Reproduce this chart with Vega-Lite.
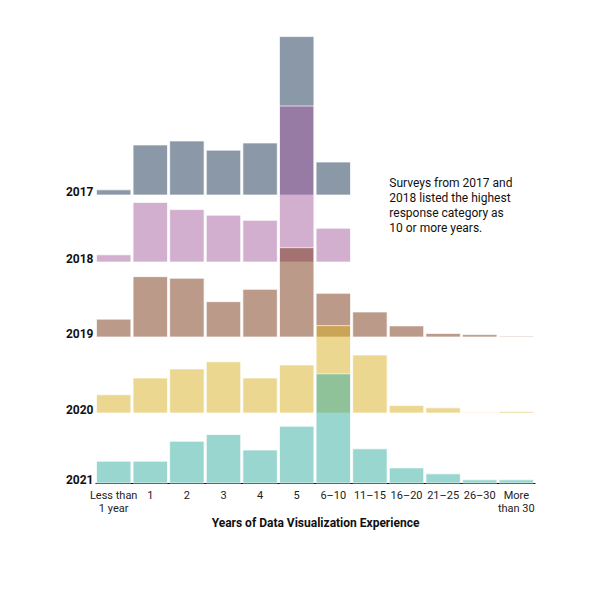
{
  "$schema": "https://vega.github.io/schema/vega-lite/v6.json",
  "padding": {"left": 65, "top": 5, "right": 5, "bottom": 5},
  "background": "white",
  "spacing": 0,
  "bounds": "flush",
  "config": {"view": {"stroke": null}, "font": "Roboto", "concat": {"spacing": 0}},
  "resolve": {"scale": {"x": "independent", "y": "independent", "color": "shared"}},
  "datasets": {
    "survey": [
      {"year": "2017", "experience": "Less than 1 year", "pct": 1.3},
      {"year": "2017", "experience": "1", "pct": 12.6},
      {"year": "2017", "experience": "2", "pct": 13.6},
      {"year": "2017", "experience": "3", "pct": 11.3},
      {"year": "2017", "experience": "4", "pct": 13.1},
      {"year": "2017", "experience": "5", "pct": 39.9},
      {"year": "2017", "experience": "6–10", "pct": 8.3},
      {"year": "2018", "experience": "Less than 1 year", "pct": 1.8},
      {"year": "2018", "experience": "1", "pct": 15.0},
      {"year": "2018", "experience": "2", "pct": 13.2},
      {"year": "2018", "experience": "3", "pct": 11.8},
      {"year": "2018", "experience": "4", "pct": 10.5},
      {"year": "2018", "experience": "5", "pct": 39.3},
      {"year": "2018", "experience": "6–10", "pct": 8.5},
      {"year": "2019", "experience": "Less than 1 year", "pct": 4.5},
      {"year": "2019", "experience": "1", "pct": 15.2},
      {"year": "2019", "experience": "2", "pct": 14.8},
      {"year": "2019", "experience": "3", "pct": 8.9},
      {"year": "2019", "experience": "4", "pct": 12.0},
      {"year": "2019", "experience": "5", "pct": 22.5},
      {"year": "2019", "experience": "6–10", "pct": 11.0},
      {"year": "2019", "experience": "11–15", "pct": 6.3},
      {"year": "2019", "experience": "16–20", "pct": 2.8},
      {"year": "2019", "experience": "21–25", "pct": 0.9},
      {"year": "2019", "experience": "26–30", "pct": 0.6},
      {"year": "2019", "experience": "More than 30", "pct": 0.2},
      {"year": "2020", "experience": "Less than 1 year", "pct": 4.6},
      {"year": "2020", "experience": "1", "pct": 8.8},
      {"year": "2020", "experience": "2", "pct": 11.1},
      {"year": "2020", "experience": "3", "pct": 12.9},
      {"year": "2020", "experience": "4", "pct": 8.8},
      {"year": "2020", "experience": "5", "pct": 12.1},
      {"year": "2020", "experience": "6–10", "pct": 22.0},
      {"year": "2020", "experience": "11–15", "pct": 14.6},
      {"year": "2020", "experience": "16–20", "pct": 1.9},
      {"year": "2020", "experience": "21–25", "pct": 1.3},
      {"year": "2020", "experience": "26–30", "pct": 0.2},
      {"year": "2020", "experience": "More than 30", "pct": 0.4},
      {"year": "2021", "experience": "Less than 1 year", "pct": 5.5},
      {"year": "2021", "experience": "1", "pct": 5.5},
      {"year": "2021", "experience": "2", "pct": 10.5},
      {"year": "2021", "experience": "3", "pct": 12.2},
      {"year": "2021", "experience": "4", "pct": 8.3},
      {"year": "2021", "experience": "5", "pct": 14.3},
      {"year": "2021", "experience": "6–10", "pct": 27.5},
      {"year": "2021", "experience": "11–15", "pct": 8.6},
      {"year": "2021", "experience": "16–20", "pct": 3.8},
      {"year": "2021", "experience": "21–25", "pct": 2.3},
      {"year": "2021", "experience": "26–30", "pct": 0.8},
      {"year": "2021", "experience": "More than 30", "pct": 0.8}
    ]
  },
  "data": {"name": "survey"},
  "vconcat": [
    {
      "width": 440,
      "height": 190,
      "layer": [
        {
          "transform": [{"filter": "datum.year == '2017'"}],
          "mark": {"type": "bar", "fillOpacity": 0.5, "stroke": "white", "strokeWidth": 1, "strokeOpacity": 0.7},
          "encoding": {
            "x": {"field": "experience", "type": "ordinal", "sort": null, "axis": null,
                  "scale": {"domain": ["Less than 1 year","1","2","3","4","5","6–10","11–15","16–20","21–25","26–30","More than 30"], "paddingInner": 0.06, "paddingOuter": 0.04}},
            "y": {"field": "pct", "type": "quantitative",
                  "scale": {"domain": [0, 47.86], "nice": false, "zero": true},
                  "axis": {"values": [0], "labelExpr": "'2017'", "domain": false, "ticks": false, "grid": false, "title": null,
                           "labelFontSize": 12, "labelFontWeight": "bold", "labelBaseline": "alphabetic", "labelFlush": false,
                           "labelPadding": 2, "labelColor": "#111", "labelFont": "Roboto"}},
            "color": {"field": "year", "type": "nominal", "legend": null,
                      "scale": {"domain": ["2017","2018","2019","2020","2021"], "range": ["#153151","#a55d9f","#773515","#d9af23","#31ad9f"]}}
          }
        },
        {
          "data": {"values": [{}]},
          "mark": {"type": "text", "text": ["Surveys from 2017 and", "2018 listed the highest", "response category as", "10 or more years."],
                   "align": "left", "baseline": "alphabetic", "fontSize": 12, "lineHeight": 15, "font": "Roboto", "color": "#111"},
          "encoding": {
            "x": {"datum": "16–20", "type": "ordinal", "bandPosition": 0},
            "y": {"datum": 2.1, "type": "quantitative"}
          }
        }
      ]
    },
    {
      "width": 440,
      "height": 67,
      "transform": [{"filter": "datum.year == '2018'"}],
      "mark": {"type": "bar", "fillOpacity": 0.5, "stroke": "white", "strokeWidth": 1, "strokeOpacity": 0.7},
      "encoding": {
        "x": {"field": "experience", "type": "ordinal", "sort": null, "axis": null,
              "scale": {"domain": ["Less than 1 year","1","2","3","4","5","6–10","11–15","16–20","21–25","26–30","More than 30"], "paddingInner": 0.06, "paddingOuter": 0.04}},
        "y": {"field": "pct", "type": "quantitative",
              "scale": {"domain": [0, 16.88], "nice": false, "zero": true},
              "axis": {"values": [0], "labelExpr": "'2018'", "domain": false, "ticks": false, "grid": false, "title": null,
                       "labelFontSize": 12, "labelFontWeight": "bold", "labelBaseline": "alphabetic", "labelFlush": false,
                       "labelPadding": 2, "labelColor": "#111", "labelFont": "Roboto"}},
        "color": {"field": "year", "type": "nominal", "legend": null}
      }
    },
    {
      "width": 440,
      "height": 75,
      "transform": [{"filter": "datum.year == '2019'"}],
      "mark": {"type": "bar", "fillOpacity": 0.5, "stroke": "white", "strokeWidth": 1, "strokeOpacity": 0.7},
      "encoding": {
        "x": {"field": "experience", "type": "ordinal", "sort": null, "axis": null,
              "scale": {"domain": ["Less than 1 year","1","2","3","4","5","6–10","11–15","16–20","21–25","26–30","More than 30"], "paddingInner": 0.06, "paddingOuter": 0.04}},
        "y": {"field": "pct", "type": "quantitative",
              "scale": {"domain": [0, 18.89], "nice": false, "zero": true},
              "axis": {"values": [0], "labelExpr": "'2019'", "domain": false, "ticks": false, "grid": false, "title": null,
                       "labelFontSize": 12, "labelFontWeight": "bold", "labelBaseline": "alphabetic", "labelFlush": false,
                       "labelPadding": 2, "labelColor": "#111", "labelFont": "Roboto"}},
        "color": {"field": "year", "type": "nominal", "legend": null}
      }
    },
    {
      "width": 440,
      "height": 76,
      "transform": [{"filter": "datum.year == '2020'"}],
      "mark": {"type": "bar", "fillOpacity": 0.5, "stroke": "white", "strokeWidth": 1, "strokeOpacity": 0.7},
      "encoding": {
        "x": {"field": "experience", "type": "ordinal", "sort": null, "axis": null,
              "scale": {"domain": ["Less than 1 year","1","2","3","4","5","6–10","11–15","16–20","21–25","26–30","More than 30"], "paddingInner": 0.06, "paddingOuter": 0.04}},
        "y": {"field": "pct", "type": "quantitative",
              "scale": {"domain": [0, 19.14], "nice": false, "zero": true},
              "axis": {"values": [0], "labelExpr": "'2020'", "domain": false, "ticks": false, "grid": false, "title": null,
                       "labelFontSize": 12, "labelFontWeight": "bold", "labelBaseline": "alphabetic", "labelFlush": false,
                       "labelPadding": 2, "labelColor": "#111", "labelFont": "Roboto"}},
        "color": {"field": "year", "type": "nominal", "legend": null}
      }
    },
    {
      "width": 440,
      "height": 70,
      "transform": [{"filter": "datum.year == '2021'"}],
      "mark": {"type": "bar", "fillOpacity": 0.5, "stroke": "white", "strokeWidth": 1, "strokeOpacity": 0.7},
      "encoding": {
        "x": {"field": "experience", "type": "ordinal", "sort": null,
              "scale": {"domain": ["Less than 1 year","1","2","3","4","5","6–10","11–15","16–20","21–25","26–30","More than 30"], "paddingInner": 0.06, "paddingOuter": 0.04},
              "axis": {"title": "Years of Data Visualization Experience", "titleFontWeight": "bold", "titleFontSize": 12, "titleColor": "#111", "titleFont": "Roboto",
                       "titlePadding": 4, "domain": true, "domainColor": "#111", "domainWidth": 1.2, "ticks": false, "labelAngle": 0,
                       "labelFontSize": 11, "labelPadding": 6, "labelLineHeight": 13, "labelColor": "#222", "labelFont": "Roboto",
                       "labelExpr": "datum.label == 'Less than 1 year' ? ['Less than', '1 year'] : datum.label == 'More than 30' ? ['More', 'than 30'] : datum.label"}},
        "y": {"field": "pct", "type": "quantitative",
              "scale": {"domain": [0, 17.63], "nice": false, "zero": true},
              "axis": {"values": [0], "labelExpr": "'2021'", "domain": false, "ticks": false, "grid": false, "title": null,
                       "labelFontSize": 12, "labelFontWeight": "bold", "labelBaseline": "alphabetic", "labelFlush": false,
                       "labelPadding": 2, "labelColor": "#111", "labelFont": "Roboto"}},
        "color": {"field": "year", "type": "nominal", "legend": null}
      }
    }
  ]
}
